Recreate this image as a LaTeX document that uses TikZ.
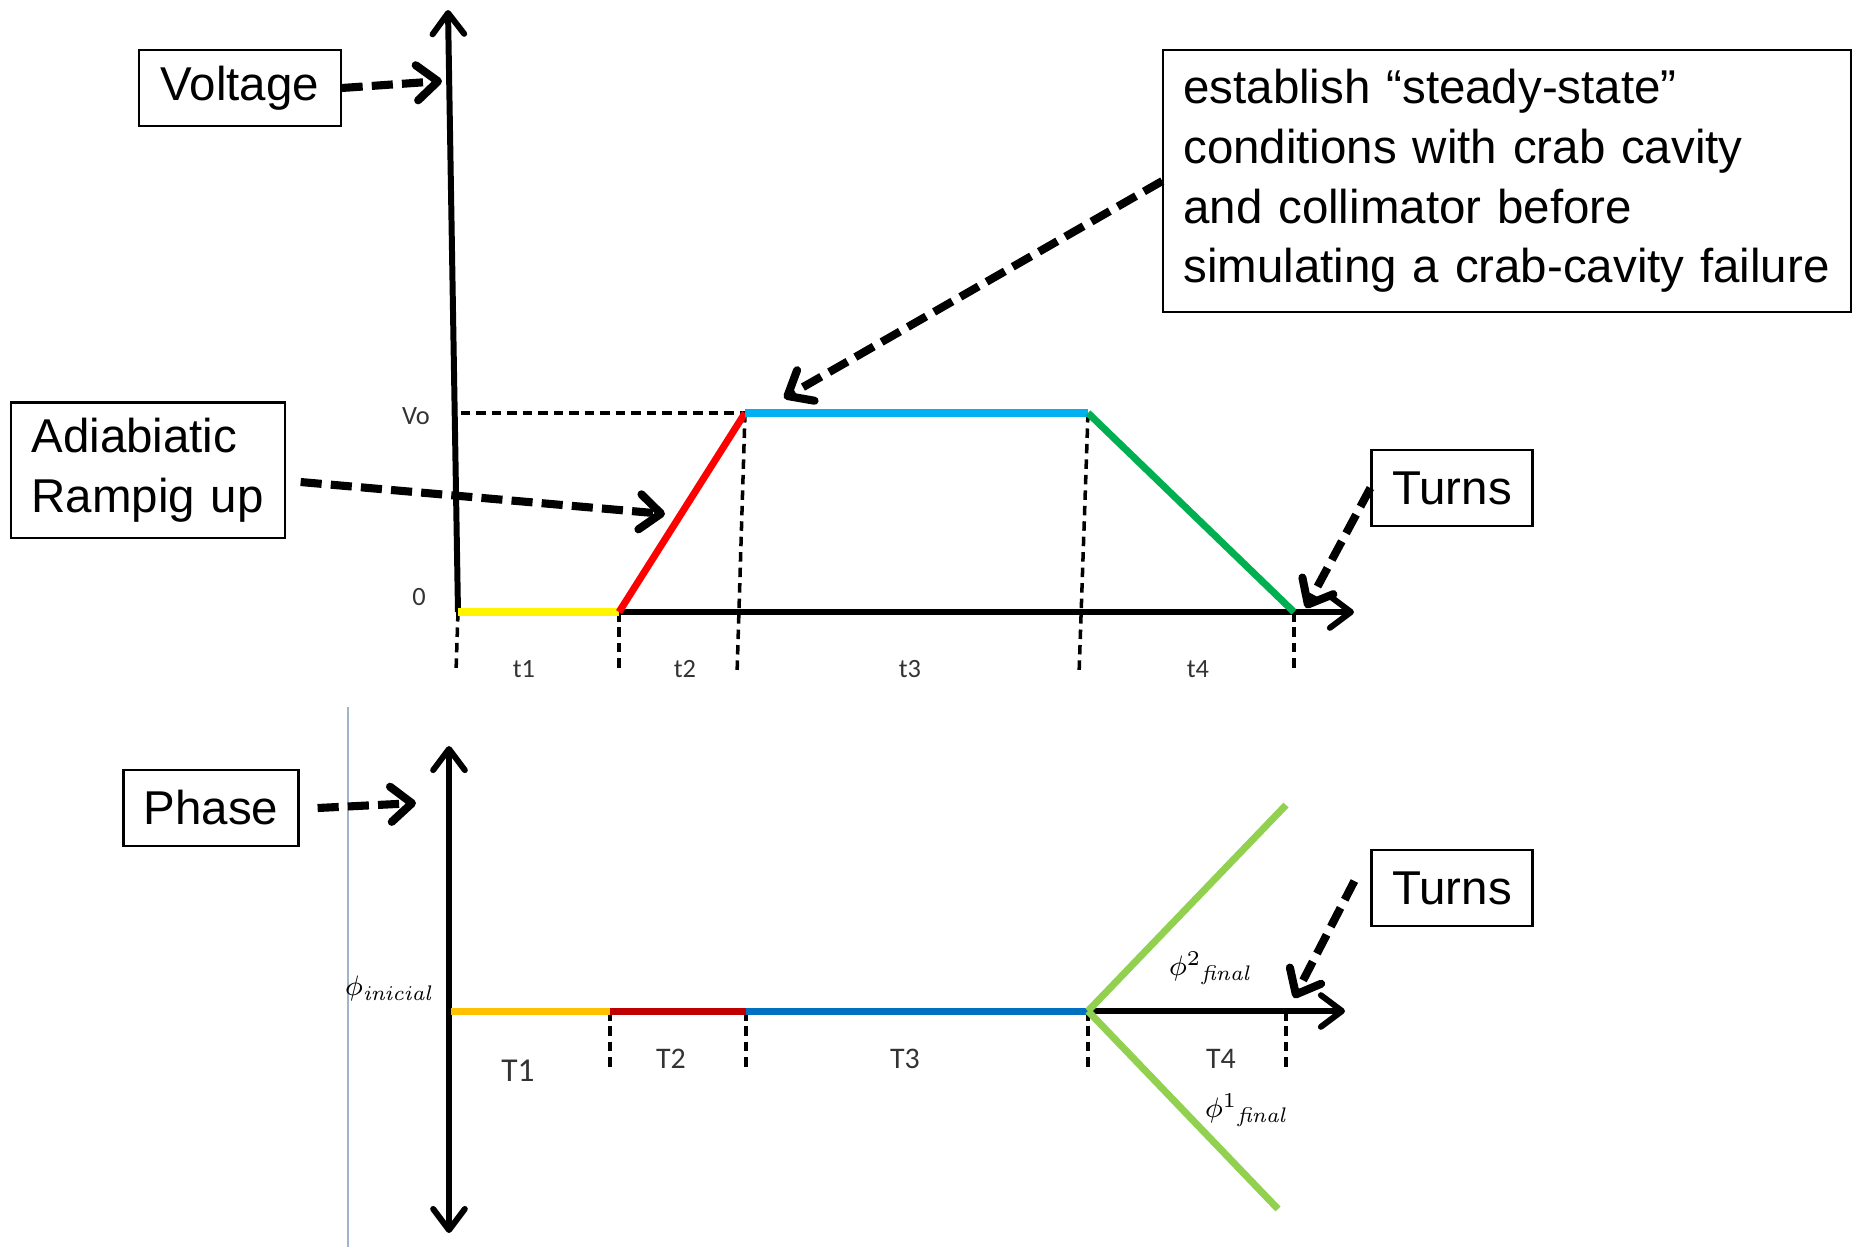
\documentclass[tikz,border=0pt]{standalone}
\usepackage[no-math]{fontspec}
\usepackage{tikz}
\usetikzlibrary{arrows.meta}
\usetikzlibrary{positioning}
\newfontfamily\boxfont{Liberation Sans}
\newfontfamily\calfont{Carlito}
\definecolor{volyellow}{RGB}{255,245,0}
\definecolor{volred}{RGB}{255,0,0}
\definecolor{volblue}{RGB}{0,176,240}
\definecolor{volgreen}{RGB}{0,176,80}
\definecolor{phorange}{RGB}{255,192,0}
\definecolor{phred}{RGB}{192,0,0}
\definecolor{phblue}{RGB}{0,112,192}
\definecolor{phgreen}{RGB}{146,208,80}
\definecolor{sepline}{RGB}{160,180,205}
\tikzset{>={Straight Barb[round,length=6pt,width=9pt]}}
\tikzstyle{callout}=[draw,line width=0.6pt,inner sep=0pt,font=\boxfont\fontsize{13.5}{17}\selectfont]
\tikzstyle{pointer}=[line width=2.3pt,dash pattern=on 6pt off 2.6pt,-{Straight Barb[round,length=6pt,width=10pt]}]
\tikzstyle{axis}=[line width=1.7pt,->]
\tikzstyle{seg}=[line width=2pt]
\tikzstyle{guide}=[line width=1pt,dash pattern=on 2.7pt off 1.7pt]
\tikzstyle{tick}=[inner sep=0pt,text=black!80,font=\calfont\fontsize{7.5}{8}\selectfont]
\tikzstyle{phlab}=[inner sep=0pt,font=\fontsize{8.5}{10}\selectfont]

\begin{document}
\begin{tikzpicture}[x=0.01cm,y=-0.01cm]
\useasboundingbox (0,0) rectangle (1862,1250);

% voltage
\coordinate (o1) at (458,612);
\coordinate (vtop) at (448,10);
\coordinate (xend1) at (1354,612);
\coordinate (a) at (619,612);
\coordinate (b) at (745,413);
\coordinate (c) at (1088,413);
\coordinate (d) at (1294,612);
\coordinate (vo) at (461,413);
\coordinate (g0) at (456,672);
\coordinate (ga) at (619,672);
\coordinate (gb) at (737,675);
\coordinate (gc) at (1079,675);
\coordinate (gd) at (1294,672);

\draw[guide] (vo) -- (b);
\draw[guide] (o1) -- (g0);
\draw[guide] (a) -- (ga);
\draw[guide] (b) -- (gb);
\draw[guide] (c) -- (gc);
\draw[guide] (d) -- (gd);
\draw[axis] (o1) -- (vtop);
\draw[axis] (o1) -- (xend1);
\draw[seg,volyellow] (o1) -- (a);
\draw[seg,volred] (a) -- (b);
\draw[seg,volblue] (b) -- (c);
\draw[seg,volgreen] (c) -- (d);

\node[tick] (vlab) at (416,416) {Vo};
\node[tick] (zlab) at (419,597) {0};
\node[tick] (t1) at (524,669) {t1};
\node[tick] (t2) at (685,669) {t2};
\node[tick] (t3) at (910,669) {t3};
\node[tick] (t4) at (1198,669) {t4};

\node[callout,minimum width=2.01cm,minimum height=0.76cm] (volt) at (240,88) {Voltage};
\coordinate (volttip) at (442,81);
\draw[pointer] (volt.east) -- (volttip);

\node[callout,text width=6.47cm,inner xsep=0.2cm,minimum height=2.62cm,align=left] (steady) at (1507,181)
  {establish “steady-state”\\conditions with crab cavity\\and collimator before\\simulating a crab-cavity failure};
\coordinate (steadytip) at (784,398);
\draw[pointer] (steady.west) -- (steadytip);

\node[callout,text width=2.33cm,inner xsep=0.2cm,minimum height=1.35cm,align=left] (ramp) at (148,470)
  {Adiabiatic\\Rampig up};
\coordinate (ramptip) at (665,514);
\draw[pointer] ([xshift=0.15cm,yshift=-0.12cm]ramp.east) -- (ramptip);

\node[callout,minimum width=1.61cm,minimum height=0.76cm] (turnsV) at (1452,488) {Turns};
\coordinate (turnsVtip) at (1306,608);
\draw[pointer] (turnsV.west) -- (turnsVtip);

% phase
\coordinate (septop) at (348,707);
\coordinate (sepbot) at (348,1247);
\draw[sepline,line width=0.4pt] (septop) -- (sepbot);

\coordinate (ptop) at (449,746);
\coordinate (pbot) at (449,1233);
\coordinate (o2) at (451,1011);
\coordinate (p1) at (610,1011);
\coordinate (p2) at (746,1011);
\coordinate (p3) at (1088,1011);
\coordinate (p4) at (1286,1011);
\coordinate (xend2) at (1345,1011);
\coordinate (up) at (1286,805);
\coordinate (down) at (1278,1209);
\coordinate (h1) at (610,1071);
\coordinate (h2) at (746,1071);
\coordinate (h3) at (1088,1071);
\coordinate (h4) at (1286,1071);

\draw[guide] (p1) -- (h1);
\draw[guide] (p2) -- (h2);
\draw[guide] (p3) -- (h3);
\draw[guide] (p4) -- (h4);
\draw[line width=1.7pt,<->] (pbot) -- (ptop);
\draw[axis] (o2) -- (xend2);
\draw[seg,phorange] (o2) -- (p1);
\draw[seg,phred] (p1) -- (p2);
\draw[seg,phblue] (p2) -- (p3);
\draw[seg,phgreen] (p3) -- (up);
\draw[seg,phgreen] (p3) -- (down);

\node[tick,font=\calfont\fontsize{9.5}{10}\selectfont] (T1) at (518,1071) {T1};
\node[tick,font=\calfont\fontsize{8.5}{9}\selectfont] (T2) at (671,1059) {T2};
\node[tick,font=\calfont\fontsize{8.5}{9}\selectfont] (T3) at (905,1059) {T3};
\node[tick,font=\calfont\fontsize{8.5}{9}\selectfont] (T4) at (1221,1059) {T4};

\node[phlab] (phii) at (390,988) {$\phi_{\mathit{inicial}}$};
\node[phlab] (phi2) at (1211,968) {$\phi^{2}{}_{\mathit{final}}$};
\node[phlab] (phi1) at (1247,1110) {$\phi^{1}{}_{\mathit{final}}$};

\node[callout,minimum width=1.75cm,minimum height=0.76cm] (phase) at (211,808) {Phase};
\coordinate (phasetip) at (416,803);
\draw[pointer] ([xshift=0.18cm]phase.east) -- (phasetip);

\node[callout,minimum width=1.61cm,minimum height=0.76cm] (turnsP) at (1452,888) {Turns};
\coordinate (turnsPtip) at (1294,998);
\draw[pointer] ([xshift=-0.16cm,yshift=0.07cm]turnsP.west) -- (turnsPtip);
\end{tikzpicture}
\end{document}
